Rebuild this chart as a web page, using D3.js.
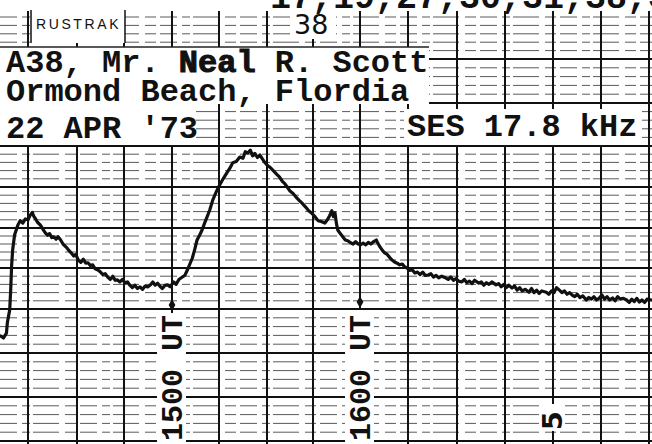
<!DOCTYPE html>
<html><head><meta charset="utf-8">
<script src="https://cdn.jsdelivr.net/npm/d3@7"></script>
<style>html,body{margin:0;padding:0;background:#fff;overflow:hidden}svg{display:block}</style>
</head><body><svg id="c" width="652" height="444"></svg>
<script>
// ---- data ----
const gridMinutes = [15,30,45,60,75,90,105,120,135,150,165,180,195,210]; // minutes after 1400 UT
const gridLevels = [0,1,2,3,4,5,6,7,8,9,10];
// [minutes after 1400 UT, chart divisions]
const trace = [
[6.5,2.39],[7.5,2.34],[8.4,2.45],[8.7,2.70],[9.4,2.98],[9.7,3.46],[10.0,4.08],[10.3,4.45],[10.9,4.83],[11.9,5.07],
[12.6,5.18],[13.4,5.12],[14.2,5.22],[15.0,5.20],[15.6,5.30],[16.3,5.38],[16.8,5.28],[17.2,5.24],[17.9,5.14],[18.8,5.07],
[19.5,4.98],[20.3,4.88],[21.0,4.82],[21.6,4.86],[22.3,4.76],[22.9,4.78],[23.6,4.72],[24.2,4.78],[25.0,4.70],[25.7,4.60],
[26.6,4.53],[27.3,4.46],[28.2,4.38],[29.0,4.30],[29.6,4.34],[30.4,4.20],[31.2,4.14],[32.0,4.22],[32.8,4.12],[33.5,4.13],
[34.3,4.06],[35.0,4.08],[35.8,3.98],[36.7,3.95],[37.5,3.90],[38.2,3.84],[39.0,3.86],[39.8,3.78],[40.6,3.72],[41.4,3.80],
[42.2,3.70],[42.9,3.71],[43.7,3.66],[44.5,3.72],[45.3,3.64],[46.1,3.66],[46.8,3.58],[47.6,3.52],[48.4,3.58],[49.2,3.50],
[50.0,3.54],[50.8,3.48],[51.6,3.56],[52.4,3.54],[53.3,3.59],[54.0,3.66],[54.7,3.58],[55.5,3.63],[56.3,3.55],[57.0,3.50],
[57.8,3.58],[58.6,3.59],[59.4,3.54],[60.5,3.66],[61.3,3.60],[62.2,3.72],[63.3,3.78],[64.1,3.82],[64.9,3.95],[65.7,4.10],
[66.5,4.25],[67.3,4.48],[68.0,4.70],[68.8,4.82],[69.6,4.95],[70.4,5.12],[71.2,5.27],[72.1,5.45],[73.0,5.68],[74.1,5.88],
[75.2,6.05],[76.3,6.20],[77.4,6.34],[78.4,6.46],[79.3,6.59],[80.4,6.62],[81.5,6.73],[82.5,6.70],[83.2,6.86],[84.0,6.83],
[84.8,6.90],[85.5,6.76],[86.2,6.82],[87.0,6.72],[87.8,6.78],[88.6,6.68],[89.4,6.59],[90.2,6.52],[91.0,6.48],[91.9,6.41],
[92.8,6.34],[93.6,6.28],[94.1,6.24],[95.0,6.14],[95.8,6.08],[96.6,6.00],[97.5,5.90],[98.5,5.84],[99.4,5.76],[100.4,5.68],
[101.5,5.60],[102.6,5.51],[103.6,5.42],[104.6,5.36],[105.7,5.27],[106.6,5.18],[107.6,5.16],[108.8,5.12],[109.6,5.20],[110.3,5.30],
[111.0,5.42],[111.5,5.28],[112.0,5.37],[112.5,5.10],[112.9,4.95],[113.7,4.86],[114.5,4.78],[115.3,4.70],[116.1,4.68],[117.0,4.63],
[117.8,4.60],[118.6,4.66],[119.4,4.60],[120.1,4.58],[121.0,4.62],[121.8,4.58],[122.6,4.64],[123.4,4.60],[124.3,4.66],[125.1,4.70],
[125.5,4.63],[126.3,4.52],[127.0,4.44],[127.7,4.38],[128.5,4.34],[129.3,4.26],[130.0,4.20],[130.8,4.15],[131.6,4.12],[132.4,4.08],
[133.2,4.10],[133.9,4.03],[134.7,4.00],[135.5,3.94],[136.3,3.96],[137.1,3.88],[137.9,3.90],[138.7,3.84],[139.5,3.90],[140.3,3.82],
[141.2,3.83],[142.0,3.86],[142.8,3.78],[143.6,3.82],[144.4,3.76],[145.3,3.80],[146.5,3.76],[147.3,3.72],[148.1,3.78],[148.9,3.70],
[149.7,3.74],[150.5,3.68],[151.5,3.66],[152.3,3.72],[153.1,3.64],[153.9,3.68],[154.7,3.62],[155.5,3.70],[156.8,3.63],[157.6,3.66],
[158.4,3.58],[159.2,3.64],[160.0,3.60],[160.9,3.66],[162.2,3.59],[163.0,3.62],[163.8,3.54],[164.6,3.60],[165.4,3.52],[166.2,3.58],
[167.2,3.51],[168.0,3.56],[168.8,3.46],[169.6,3.52],[170.4,3.44],[171.3,3.48],[172.5,3.41],[173.3,3.50],[174.1,3.40],[174.9,3.46],
[175.7,3.38],[176.5,3.44],[177.9,3.41],[178.7,3.36],[179.5,3.44],[180.3,3.40],[181.1,3.52],[182.0,3.46],[182.8,3.40],[183.6,3.44],
[184.4,3.36],[185.2,3.40],[186.0,3.34],[186.8,3.30],[187.6,3.36],[188.4,3.28],[189.3,3.32],[190.4,3.22],[191.2,3.28],[192.0,3.24],
[192.8,3.30],[193.6,3.22],[194.5,3.27],[195.3,3.34],[196.1,3.24],[196.9,3.30],[197.7,3.22],[198.6,3.27],[199.4,3.20],[200.2,3.30],
[201.0,3.24],[202.0,3.26],[203.0,3.22],[203.8,3.16],[204.6,3.24],[205.4,3.18],[206.2,3.26],[207.0,3.17],[207.8,3.22],[208.6,3.16],
[209.4,3.24],[210.8,3.22]
];
const markerMinutes = [60, 120];
const markerLevel = [3.1, 3.17];
const markerLabels = ["1500 UT", "1600 UT"];
const headerLines = ["A38, Mr. ", "Ormond Beach, Flordia", "22 APR '73"];
const headerName = ["Neal", " R. Scott"];
const frequencyLabel = "SES 17.8 kHz";
const stationList = "17,19,27,30,31,38,37";
const chartBrand = "RUSTRAK";
const chartNumber = "38";
const chartMarkMinute = 180;
const chartMark = "5";

// ---- scales ----
const svg = d3.select("#c");
const x = d3.scaleLinear().domain(gridMinutes)
  .range([28,77,124,172,219,267,313,360,408,457,505,553,601,649]);
const y = d3.scaleLinear().domain(gridLevels)
  .range([441,397,353,309,268,228,187,146,103,59,17]);

svg.append("rect").attr("width",652).attr("height",444).attr("fill","#fff");

// ---- grid ----
const grid = svg.append("g");
const minorLevels = [];
gridLevels.slice(0,-1).forEach(l => [0.2,0.4,0.6,0.8].forEach(f => minorLevels.push(l+f)));
minorLevels.push(10);
const majorLevels = gridLevels.slice(0,-1);
grid.selectAll("line.minor").data(minorLevels).join("line")
  .attr("x1",0).attr("x2",652)
  .attr("y1",d=>y(d)).attr("y2",d=>y(d))
  .attr("stroke","#5a5a5a").attr("stroke-width",1)
  .attr("stroke-dasharray","17 5 8 3 26 6 11 4");
grid.selectAll("line.major").data(majorLevels).join("line")
  .attr("x1",0).attr("x2",652)
  .attr("y1",d=>y(d)).attr("y2",d=>y(d))
  .attr("stroke","#111").attr("stroke-width",2);
grid.selectAll("line.v").data(gridMinutes).join("line")
  .attr("x1",d=>x(d)).attr("x2",d=>x(d))
  .attr("y1",10).attr("y2",444)
  .attr("stroke","#111").attr("stroke-width",2);

// ---- pasted labels (white paper) ----
const paper = svg.append("g").attr("fill","#fff");
paper.append("rect").attr("x",0).attr("y",0).attr("width",652).attr("height",11);
paper.append("rect").attr("x",31).attr("y",11).attr("width",94).attr("height",32);
paper.append("rect").attr("x",290).attr("y",11).attr("width",46).attr("height",28);
paper.append("rect").attr("x",0).attr("y",47).attr("width",429).attr("height",57);
paper.append("rect").attr("x",0).attr("y",104).attr("width",196).attr("height",41);
paper.append("rect").attr("x",404).attr("y",109).attr("width",238).attr("height",36);
markerMinutes.forEach(m => {
  paper.append("rect").attr("x",x(m)-15).attr("y",310).attr("width",29).attr("height",134);
});
paper.append("rect").attr("x",x(chartMarkMinute)-13).attr("y",404).attr("width",25).attr("height",27);

// label edges
svg.append("line").attr("x1",0).attr("x2",429).attr("y1",47).attr("y2",47)
  .attr("stroke","#222").attr("stroke-width",1.5);
svg.selectAll("line.rk").data([31,125]).join("line")
  .attr("x1",d=>d).attr("x2",d=>d).attr("y1",10).attr("y2",43)
  .attr("stroke","#111").attr("stroke-width",1.5);

// ---- text ----
const mono = "'Liberation Mono','DejaVu Sans Mono',monospace";
svg.append("text").attr("x",270).attr("y",8)
  .attr("font-family",mono).attr("font-weight","bold").attr("font-size",35)
  .attr("fill","#111").text(stationList);
svg.append("text").attr("x",36).attr("y",29)
  .attr("font-family","'Liberation Sans',Arial,sans-serif").attr("font-size",14)
  .attr("letter-spacing",2.6).attr("fill","#111").text(chartBrand);
svg.append("text").attr("x",294).attr("y",34)
  .attr("font-family","'DejaVu Sans',sans-serif").attr("font-size",27)
  .attr("fill","#111").text(chartNumber);

const typed = svg.append("g").attr("font-family",mono).attr("font-weight","bold")
  .attr("font-size",32).attr("fill","#111");
const l1 = typed.append("text").attr("x",6).attr("y",72);
l1.append("tspan").text(headerLines[0]);
l1.append("tspan").attr("stroke","#111").attr("stroke-width",1.1).text(headerName[0]);
l1.append("tspan").text(headerName[1]);
typed.append("text").attr("x",6).attr("y",101).text(headerLines[1]);
typed.append("text").attr("x",6).attr("y",138).text(headerLines[2]);
typed.append("text").attr("x",407).attr("y",136).text(frequencyLabel);

markerLabels.forEach((t,i) => {
  svg.append("text")
    .attr("transform",`translate(${x(markerMinutes[i])+10},441) rotate(-90)`)
    .attr("font-family",mono).attr("font-weight","bold").attr("font-size",30)
    .attr("fill","#111").text(t);
});
svg.append("text")
  .attr("transform",`translate(${x(chartMarkMinute)+9},430) rotate(-90)`)
  .attr("font-family","'DejaVu Sans',sans-serif").attr("font-weight","bold").attr("font-size",27)
  .attr("fill","#111").text(chartMark);

// ---- markers ----
markerMinutes.forEach((m,i) => {
  svg.append("line").attr("x1",x(m)).attr("x2",x(m))
    .attr("y1",y(markerLevel[i])).attr("y2",y(markerLevel[i])+8)
    .attr("stroke","#111").attr("stroke-width",2);
  svg.append("path")
    .attr("d",d3.symbol(d3.symbolDiamond,40)())
    .attr("transform",`translate(${x(m)},${y(markerLevel[i])})`)
    .attr("fill","#111");
});

// ---- trace ----
const line = d3.line().x(d=>x(d[0])).y(d=>y(d[1]));
svg.append("path").datum(trace).attr("d",line)
  .attr("fill","none").attr("stroke","#111").attr("stroke-width",3.2)
  .attr("stroke-linejoin","round").attr("stroke-linecap","round");
</script></body></html>
